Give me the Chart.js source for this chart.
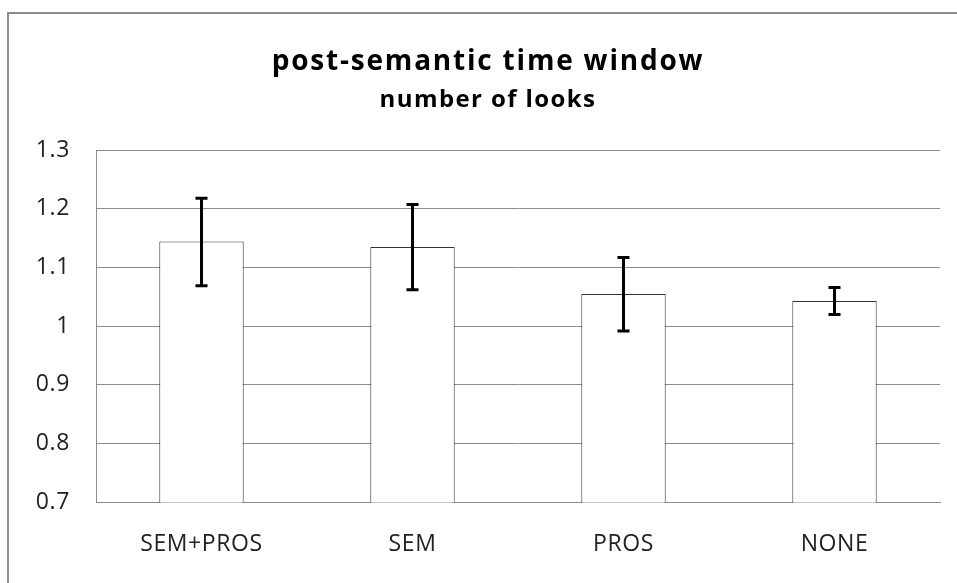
<!DOCTYPE html>
<html>
<head>
<meta charset="utf-8">
<script src="https://cdn.jsdelivr.net/npm/chart.js@4"></script>
<style>
  html, body { margin: 0; padding: 0; background: #fff; overflow: hidden; }
  #wrap { position: relative; width: 957px; height: 583px; overflow: hidden; }
  #frame { position: absolute; left: 7px; top: 12px; width: 980px; height: 620px;
           border: 2px solid #8c8c8c; box-sizing: border-box; }
  canvas { position: absolute; left: 0; top: 0; }
</style>
</head>
<body>
<div id="wrap">
  <div id="frame"></div>
  <canvas id="c" width="957" height="583"></canvas>
</div>
<script>
const categories = ['SEM+PROS', 'SEM', 'PROS', 'NONE'];
const means      = [1.144, 1.135, 1.055, 1.043];
const errUpper   = [1.218, 1.207, 1.117, 1.066];
const errLower   = [1.069, 1.062, 0.992, 1.020];
const yTicks     = [0.7, 0.8, 0.9, 1.0, 1.1, 1.2, 1.3];
const titleText    = 'post-semantic time window';
const subtitleText = 'number of looks';

const FONT = "'Open Sans', 'Noto Sans', sans-serif";

const errorBars = {
  id: 'errorBars',
  afterDatasetsDraw(chart) {
    const ctx = chart.ctx;
    const meta = chart.getDatasetMeta(0);
    const y = chart.scales.y;
    ctx.save();
    ctx.strokeStyle = '#000';
    ctx.lineWidth = 3;
    meta.data.forEach((bar, i) => {
      const x = bar.x;
      const yt = y.getPixelForValue(errUpper[i]);
      const yb = y.getPixelForValue(errLower[i]);
      const cap = 6;
      ctx.beginPath();
      ctx.moveTo(x, yt); ctx.lineTo(x, yb);
      ctx.moveTo(x - cap, yt); ctx.lineTo(x + cap, yt);
      ctx.moveTo(x - cap, yb); ctx.lineTo(x + cap, yb);
      ctx.stroke();
    });
    ctx.restore();
  }
};

// letter spacing / centring to mimic the original title block
const spacing = {
  id: 'spacing',
  beforeDraw(chart) {
    chart.ctx.letterSpacing = '0.6px';
    chart.boxes.forEach(b => {
      if (b.options && typeof b.options.text === 'string' && !b._spWrapped) {
        const orig = b.draw.bind(b);
        const sp = b.options.text === titleText ? '1.8px' : '1.4px';
        b.draw = function (area) {
          const ctx = chart.ctx;
          ctx.save();
          ctx.translate(18, 0);
          ctx.letterSpacing = sp;
          orig(area);
          ctx.restore();
        };
        b._spWrapped = true;
      }
    });
  }
};

new Chart(document.getElementById('c'), {
  type: 'bar',
  data: {
    labels: categories,
    datasets: [{
      data: means,
      backgroundColor: '#ffffff',
      borderColor: '#333333',
      borderWidth: 1,
      categoryPercentage: 1.0,
      barPercentage: 0.4
    }]
  },
  options: {
    responsive: false,
    devicePixelRatio: 1,
    animation: false,
    layout: { padding: { left: 0, right: 17, top: 0, bottom: 25 } },
    plugins: {
      legend: { display: false },
      tooltip: { enabled: false },
      title: {
        display: true, text: titleText, color: '#000',
        font: { family: FONT, size: 28, weight: 'bold' },
        padding: { top: 45, bottom: 0 }
      },
      subtitle: {
        display: true, text: subtitleText, color: '#000',
        font: { family: FONT, size: 24, weight: 'bold' },
        padding: { top: 7, bottom: 35.6 }
      }
    },
    scales: {
      x: {
        afterFit(scale) { scale.height = 55.6; },
        grid: { display: false, drawTicks: false },
        border: { display: true, color: '#8c8c8c', width: 1 },
        ticks: { color: '#222', font: { family: FONT, size: 23 }, padding: 28 }
      },
      y: {
        min: 0.7, max: 1.3,
        afterBuildTicks(scale) { scale.ticks = yTicks.map(v => ({ value: v })); },
        afterFit(scale) { scale.width = 96; },
        grid: { color: '#8c8c8c', lineWidth: 1, drawTicks: false },
        border: { display: true, color: '#8c8c8c', width: 1 },
        ticks: {
          color: '#222', font: { family: FONT, size: 23 }, padding: 26,
          callback: v => String(Number(v.toFixed(1)))
        }
      }
    }
  },
  plugins: [errorBars, spacing]
});
</script>
</body>
</html>
